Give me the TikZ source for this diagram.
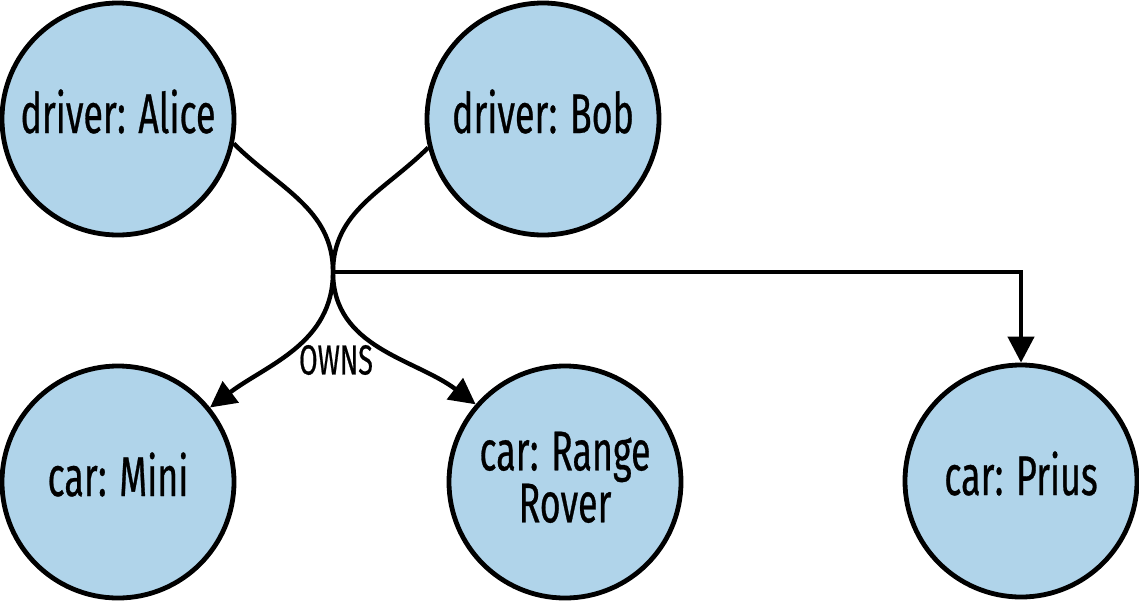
\documentclass[tikz,border=0pt]{standalone}
\usepackage{fontspec}
\setmainfont{Fira Sans}[FakeStretch=0.64,FakeBold=0.5]
\usetikzlibrary{arrows.meta}
\definecolor{nodeblue}{RGB}{176,212,234}
\begin{document}
\begin{tikzpicture}[x=0.5pt,y=-0.5pt,
  entity/.style={circle,draw=black,line width=2.4pt,fill=nodeblue,minimum size=116pt,inner sep=0pt,align=center,text height=14pt,text depth=0pt,font=\fontsize{28}{26}\selectfont},
  twoline/.style={text height=,text depth=},
  rel/.style={line width=2.2pt,-{Triangle[length=13pt,width=13pt]}},
  lbl/.style={font=\fontsize{21}{24}\selectfont}]
\useasboundingbox (0,0) rectangle (1139,600);
\node[entity] (alice) at (118,119) {driver: Alice};
\node[entity] (bob) at (543,119) {driver: Bob};
\node[entity] (mini) at (118,482) {car: Mini};
\node[entity,twoline] (rr) at (565,482) {car: Range\\Rover\rule[-5pt]{0pt}{5pt}};
\node[entity] (prius) at (1021,481) {car: Prius};
\coordinate (j) at (333,272);
\draw[rel] (alice.-12) to[out=-45,in=90] (j) to[out=-90,in=143] (rr.139);
\draw[rel] (bob.194) to[out=-135,in=90] (j) to[out=-90,in=37] (mini.39);
\draw[rel] (j) -| (prius.north);
\node[lbl] (owns) at (336,360) {OWNS};
\end{tikzpicture}
\end{document}
